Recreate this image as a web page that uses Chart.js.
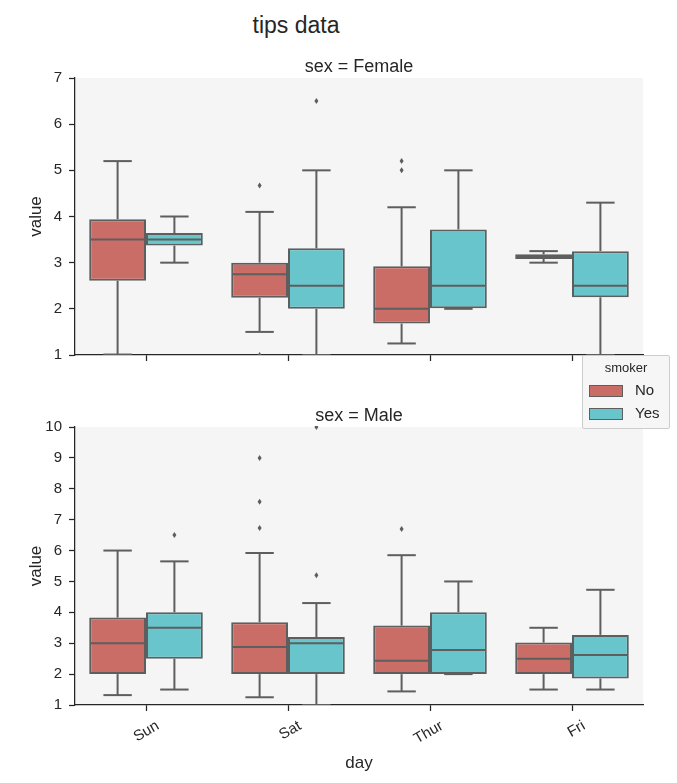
<!DOCTYPE html>
<html>
<head>
<meta charset="utf-8">
<script src="https://cdn.jsdelivr.net/npm/chart.js@4.4.1/dist/chart.umd.min.js"></script>
<style>
  body { margin: 0; background: #fff; font-family: "Liberation Sans", Arial, sans-serif; color: #262626; }
  #wrap { position: relative; width: 677px; height: 783px; overflow: hidden; }
  canvas { position: absolute; left: 0; }
  #title { position: absolute; left: 0; width: 592px; top: 11px; text-align: center; font-size: 23px; line-height: 28px; }
  #legend { position: absolute; left: 582px; top: 355px; width: 86px; height: 72px; border: 1px solid #cccccc;
            background: rgba(246,246,246,0.95); border-radius: 2px; font-size: 15px; }
  #legend .lt { position: absolute; left: 0; width: 86px; top: 4px; text-align: center; font-size: 13px; line-height: 16px; }
  #legend .sw { position: absolute; left: 6px; width: 32px; height: 10px; border: 1px solid #5e5e5e; }
  #legend .lb { position: absolute; left: 52px; line-height: 18px; }
</style>
</head>
<body>
<div id="wrap">
  <div id="title">tips data</div>
  <canvas id="female" width="677" height="322" style="top:50px"></canvas>
  <canvas id="male" width="677" height="383" style="top:400px"></canvas>
  <div id="legend"></div>
</div>
<script>
// categories
const days = ['Sun', 'Sat', 'Thur', 'Fri'];
const smokerGroups = ['No', 'Yes'];
const yTicksFemale = [1, 2, 3, 4, 5, 6, 7];
const yTicksMale = [1, 2, 3, 4, 5, 6, 7, 8, 9, 10];

// sex = Female, smoker = No
const femaleNoQ1 = [2.61, 2.24, 1.68, 3.08];
const femaleNoQ3 = [3.94, 3.0, 2.92, 3.18];
const femaleNoMed = [3.5, 2.75, 2.0, 3.125];
const femaleNoLo = [1.01, 1.5, 1.25, 3.0];
const femaleNoHi = [5.2, 4.1, 4.2, 3.25];
const femaleNoOut = [[], [4.67, 1.0], [5.0, 5.2], []];

// sex = Female, smoker = Yes
const femaleYesQ1 = [3.37, 2.0, 2.01, 2.25];
const femaleYesQ3 = [3.64, 3.31, 3.72, 3.25];
const femaleYesMed = [3.5, 2.5, 2.5, 2.5];
const femaleYesLo = [3.0, 1.0, 2.0, 1.0];
const femaleYesHi = [4.0, 5.0, 5.0, 4.3];
const femaleYesOut = [[], [6.5], [], []];

// sex = Male, smoker = No
const maleNoQ1 = [2.0, 2.0, 2.0, 2.0];
const maleNoQ3 = [3.83, 3.68, 3.57, 3.02];
const maleNoMed = [3.0, 2.88, 2.43, 2.5];
const maleNoLo = [1.32, 1.25, 1.44, 1.5];
const maleNoHi = [6.0, 5.92, 5.85, 3.5];
const maleNoOut = [[], [9.0, 7.58, 6.73], [6.7], []];

// sex = Male, smoker = Yes
const maleYesQ1 = [2.5, 2.0, 2.0, 1.86];
const maleYesQ3 = [4.0, 3.2, 4.0, 3.27];
const maleYesMed = [3.5, 3.0, 2.78, 2.62];
const maleYesLo = [1.5, 1.0, 2.0, 1.5];
const maleYesHi = [5.65, 4.3, 5.0, 4.73];
const maleYesOut = [[6.5], [5.2, 10.0], [], []];

const RED = '#cb6d67';
const CYAN = '#67c5cb';
const LINE = '#5e5e5e';
const INK = '#262626';
const FONT = '"Liberation Sans", Arial, sans-serif';

// whiskers, caps, medians and fliers drawn on top of the floating bars
const boxParts = {
    id: 'boxParts',
    beforeDraw(chart) {
        const { ctx, chartArea: a } = chart;
        ctx.save();
        ctx.fillStyle = '#f5f5f5';
        ctx.fillRect(a.left, a.top, a.right - a.left, a.bottom - a.top);
        ctx.restore();
    },
    afterDatasetsDraw(chart) {
        const { ctx, chartArea: a } = chart;
        const y = chart.scales.y;
        ctx.save();
        ctx.beginPath();
        ctx.rect(a.left, a.top - 1, a.right - a.left, a.bottom - a.top + 1);
        ctx.clip();
        ctx.strokeStyle = LINE;
        ctx.fillStyle = LINE;
        ctx.lineWidth = 2;
        const seg = (x1, y1, x2, y2) => {
            ctx.beginPath(); ctx.moveTo(x1, y1); ctx.lineTo(x2, y2); ctx.stroke();
        };
        chart.data.datasets.forEach((ds, di) => {
            chart.getDatasetMeta(di).data.forEach((bar, i) => {
                const x = bar.x, w = bar.width, cw = w / 4;
                const q1 = y.getPixelForValue(ds.data[i][0]);
                const q3 = y.getPixelForValue(ds.data[i][1]);
                const hi = y.getPixelForValue(ds.hi[i]);
                const lo = y.getPixelForValue(ds.lo[i]);
                const med = y.getPixelForValue(ds.med[i]);
                seg(x, q3, x, hi); seg(x - cw, hi, x + cw, hi);
                seg(x, q1, x, lo); seg(x - cw, lo, x + cw, lo);
                seg(x - w / 2 + 1, med, x + w / 2 - 1, med);
                ds.out[i].forEach(v => {
                    const py = y.getPixelForValue(v);
                    ctx.beginPath();
                    ctx.moveTo(x, py - 3); ctx.lineTo(x + 2, py); ctx.lineTo(x, py + 3); ctx.lineTo(x - 2, py);
                    ctx.closePath(); ctx.fill();
                });
            });
        });
        ctx.restore();
    }
};

function makeDataset(label, color, q1, q3, med, lo, hi, out) {
    return {
        label: label,
        data: q1.map((v, i) => [v, q3[i]]),
        med: med, lo: lo, hi: hi, out: out,
        backgroundColor: color,
        borderColor: LINE,
        borderWidth: 2,
        borderSkipped: false,
        categoryPercentage: 0.8,
        barPercentage: 1.0
    };
}

function makeChart(id, panelTitle, yTicks, datasets, bottom) {
    return new Chart(document.getElementById(id), {
        type: 'bar',
        data: { labels: days, datasets: datasets },
        plugins: [boxParts],
        options: {
            responsive: false,
            animation: false,
            layout: { padding: { left: 22, right: 34, top: bottom ? 5.4 : 6.4, bottom: 0 } },
            plugins: {
                legend: { display: false },
                tooltip: { enabled: false },
                title: {
                    display: true, text: panelTitle, fullSize: false, color: INK,
                    font: { family: FONT, size: 18, weight: 'normal' },
                    padding: { top: 0, bottom: 0 }
                }
            },
            scales: {
                x: {
                    offset: true,
                    grid: { display: true, drawOnChartArea: false, offset: false, tickLength: 6, tickColor: INK, tickWidth: 1.25 },
                    border: { display: true, color: INK, width: 1.25 },
                    ticks: {
                        display: bottom, color: INK, font: { family: FONT, size: 15 },
                        minRotation: 30, maxRotation: 30, padding: 6, labelOffset: 12
                    },
                    title: {
                        display: bottom, text: 'day', color: INK,
                        font: { family: FONT, size: 17 }, padding: { top: 4, bottom: 9 }
                    },
                    afterFit(scale) { scale.height = bottom ? 78 : 17; }
                },
                y: {
                    min: yTicks[0], max: yTicks[yTicks.length - 1],
                    grid: { display: true, drawOnChartArea: false, tickLength: 6, tickColor: INK, tickWidth: 1.25 },
                    border: { display: true, color: INK, width: 1.25 },
                    ticks: { stepSize: 1, color: INK, font: { family: FONT, size: 15 }, padding: 7 },
                    title: {
                        display: true, text: 'value', color: INK,
                        font: { family: FONT, size: 17 }, padding: { top: 4, bottom: 4 }
                    },
                    afterFit(scale) { scale.width = 53; }
                }
            }
        }
    });
}

makeChart('female', 'sex = Female', yTicksFemale, [
    makeDataset(smokerGroups[0], RED, femaleNoQ1, femaleNoQ3, femaleNoMed, femaleNoLo, femaleNoHi, femaleNoOut),
    makeDataset(smokerGroups[1], CYAN, femaleYesQ1, femaleYesQ3, femaleYesMed, femaleYesLo, femaleYesHi, femaleYesOut)
], false);

makeChart('male', 'sex = Male', yTicksMale, [
    makeDataset(smokerGroups[0], RED, maleNoQ1, maleNoQ3, maleNoMed, maleNoLo, maleNoHi, maleNoOut),
    makeDataset(smokerGroups[1], CYAN, maleYesQ1, maleYesQ3, maleYesMed, maleYesLo, maleYesHi, maleYesOut)
], true);

// legend
const legend = document.getElementById('legend');
legend.innerHTML = '<div class="lt">smoker</div>' + smokerGroups.map((g, i) =>
    '<span class="sw" style="top:' + (29 + i * 23) + 'px;background:' + [RED, CYAN][i] + '"></span>' +
    '<span class="lb" style="top:' + (25 + i * 23) + 'px">' + g + '</span>').join('');
</script>
</body>
</html>
